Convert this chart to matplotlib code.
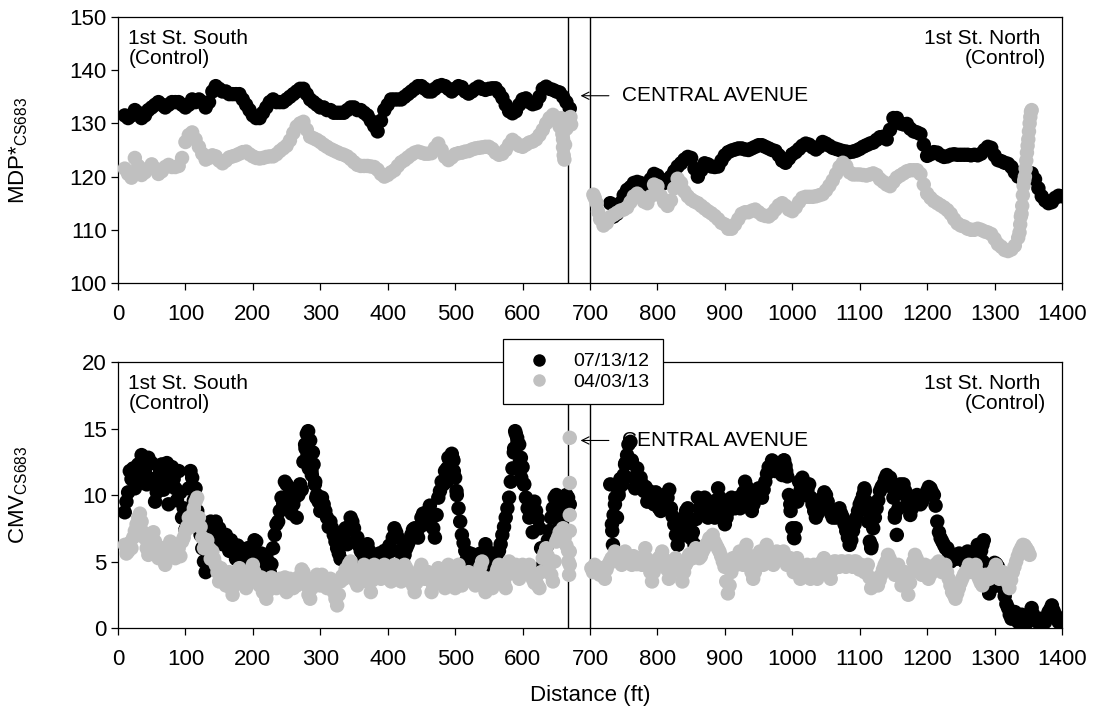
import numpy as np
import matplotlib
matplotlib.use("Agg")
import matplotlib.pyplot as plt
from matplotlib.lines import Line2D

plt.rcParams['font.family'] = ['Liberation Sans', 'DejaVu Sans']
plt.rcParams['mathtext.fontset'] = 'custom'
plt.rcParams['mathtext.rm'] = 'Liberation Sans'
plt.rcParams['mathtext.default'] = 'regular'

# ---------------------------------------------------------------- data
dates = ['07/13/12', '04/03/13']
colors = ['black', '#c0c0c0']
x_ticks = list(range(0, 1401, 100))
mdp_ticks = [100, 110, 120, 130, 140, 150]
cmv_ticks = [0, 5, 10, 15, 20]
intersection = [668, 700]          # edges of Central Avenue (ft)
step = 5                           # survey station spacing (ft)

# MDP* -- 07/13/12, south segment (stations from 10 ft) and north segment (from 730 ft)
mdp_a_south_start = 10
mdp_a_south = [131.5, 131.0, 131.5, 132.5, 132.0, 131.0, 131.5, 132.5, 133.0, 133.5,
               134.0, 133.5, 133.0, 133.5, 134.0, 134.0, 134.0, 133.5, 133.0, 133.5,
               134.5, 134.0, 134.5, 134.0, 133.0, 134.0, 136.0, 137.0, 136.5, 136.0,
               136.0, 135.5, 135.5, 135.5, 135.5, 134.5, 133.5, 132.5, 131.5, 131.0,
               131.0, 132.0, 133.0, 134.0, 134.5, 134.0, 134.0, 134.0, 134.5, 135.0,
               135.5, 136.0, 136.5, 136.5, 135.5, 134.5, 134.0, 133.5, 133.0, 133.0,
               132.5, 132.5, 132.0, 132.0, 132.0, 132.0, 132.5, 133.0, 133.0, 132.5,
               132.5, 132.0, 131.5, 130.5, 129.5, 128.5, 130.5, 132.5, 133.5, 134.5,
               134.5, 134.5, 134.5, 135.0, 135.5, 136.0, 136.5, 137.0, 137.0, 136.5,
               136.0, 136.0, 136.5, 137.0, 137.2, 137.0, 136.5, 136.0, 136.5, 137.0,
               136.8, 136.0, 135.6, 136.0, 136.5, 136.9, 136.5, 136.3, 136.5, 136.6,
               136.6, 135.8, 134.8, 133.5, 132.3, 131.9, 132.3, 133.5, 134.5, 134.7,
               134.0, 133.6, 133.8, 135.0, 136.5, 136.9, 136.5, 136.3, 136.0, 135.8,
               135.0, 134.0, 132.8]
mdp_a_north_start = 730
mdp_a_north = [115.0, 112.5, 113.0, 115.0, 116.5, 117.5, 118.0, 118.8, 119.0, 118.8,
               118.5, 118.4, 119.5, 120.5, 120.2, 119.5, 118.8, 119.2, 120.0, 121.0,
               121.9, 122.5, 123.2, 123.7, 123.5, 121.5, 120.0, 121.2, 122.5, 122.3,
               121.9, 121.8, 121.9, 123.0, 124.0, 124.6, 124.9, 125.1, 125.3, 125.3,
               125.1, 125.0, 125.3, 125.6, 125.9, 125.9, 125.6, 125.3, 125.0, 124.8,
               124.0, 123.0, 122.6, 123.4, 124.2, 124.6, 125.2, 125.8, 126.2, 126.0,
               125.5, 125.1, 125.6, 126.5, 126.2, 125.8, 125.4, 125.2, 125.0, 124.8,
               124.7, 124.6, 124.7, 124.9, 125.2, 125.6, 125.9, 126.2, 126.4, 126.9,
               127.4, 127.5, 127.0, 128.8, 131.0, 131.0, 130.0, 129.8, 129.9, 129.0,
               128.5, 128.3, 128.0, 126.0, 123.9, 124.2, 124.6, 124.5, 124.0, 123.7,
               123.8, 124.1, 124.2, 124.1, 124.1, 124.1, 124.1, 124.0, 124.1, 124.0,
               124.3, 125.0, 125.6, 125.4, 124.0, 123.1, 122.9, 122.6, 122.4, 121.8,
               120.8, 120.0, 119.8, 120.2, 120.6, 120.6, 119.5, 117.8, 116.3, 115.5,
               115.0, 115.2, 116.0, 116.4, 116.3]

# MDP* -- 04/03/13
mdp_b_south_start = 10
mdp_b_south = [121.5, 120.5, 119.8, 123.5, 122.0, 120.3, 120.8, 121.5, 122.3, 121.5,
               120.5, 121.0, 121.8, 122.2, 121.8, 121.8, 122.0, 123.5, 126.5, 127.8,
               128.3, 127.0, 125.6, 124.3, 123.2, 123.5, 124.0, 123.8, 123.0, 122.5,
               123.0, 123.6, 123.8, 124.0, 124.3, 124.6, 124.7, 124.2, 123.8, 123.5,
               123.4, 123.5, 123.7, 123.8, 123.8, 124.2, 124.8, 125.3, 125.8, 126.8,
               128.2, 129.4, 130.0, 130.3, 128.8, 127.5, 127.2, 126.9, 126.5, 126.0,
               125.6, 125.2, 124.9, 124.6, 124.3, 124.1, 123.8, 123.3, 122.7, 122.2,
               122.0, 122.0, 122.0, 121.9, 121.8, 121.3, 120.5, 120.0, 120.3, 120.8,
               121.2, 122.0, 122.7, 123.1, 123.6, 124.1, 124.5, 124.7, 124.5, 124.3,
               124.3, 124.4, 125.4, 126.2, 125.0, 123.7, 123.1, 123.6, 124.2, 124.4,
               124.5, 124.7, 124.8, 125.1, 125.3, 125.4, 125.5, 125.6, 125.6, 125.2,
               124.5, 124.1, 124.3, 125.0, 126.0, 126.9, 126.4, 125.8, 125.6, 126.0,
               126.4, 126.6, 127.0, 127.8, 128.8, 130.0, 131.0, 131.6, 130.5, 129.4,
               127.0, 129.0, 130.6]
mdp_b_extra_x = [657, 659, 660, 661, 662, 663, 671, 672]
mdp_b_extra_y = [131.0, 128.0, 125.5, 124.0, 123.2, 126.0, 131.2, 129.8]
mdp_b_north_start = 705
mdp_b_north = [116.6, 115.0, 112.0, 110.8, 111.3, 112.4, 112.8, 113.2, 113.6, 113.8,
               114.2, 115.2, 116.3, 116.8, 116.2, 115.3, 115.0, 116.3, 118.5, 118.2,
               116.4, 115.2, 114.5, 115.5, 117.8, 119.6, 118.8, 117.2, 116.3, 115.7,
               115.3, 115.0, 114.5, 114.0, 113.5, 113.1, 112.6, 112.0, 111.3, 111.0,
               110.2, 110.2, 111.0, 112.0, 113.0, 113.3, 113.3, 113.6, 113.8, 113.3,
               112.8, 112.6, 112.5, 113.0, 113.8, 114.6, 115.0, 114.5, 113.8, 113.5,
               114.2, 115.2, 116.0, 116.2, 116.2, 116.2, 116.3, 116.5, 116.7, 117.4,
               118.3, 119.3, 120.5, 121.8, 122.6, 122.0, 120.8, 120.4, 120.4, 120.4,
               120.3, 120.2, 120.4, 120.6, 120.3, 119.5, 119.0, 118.5, 118.2, 119.0,
               119.8, 120.2, 120.6, 121.0, 121.2, 121.2, 121.2, 120.5, 118.5, 116.8,
               116.0, 115.4, 115.0, 114.6, 114.2, 113.7, 113.0, 112.0, 111.2, 110.8,
               110.6, 110.2, 110.0, 110.0, 110.2, 110.0, 109.7, 109.5, 109.2, 108.3,
               107.3, 106.8, 106.2, 106.0, 106.3, 107.0, 108.5, 113.0, 120.0, 127.0,
               132.5]
mdp_b_north_extra_x = [707, 712, 1337, 1338, 1339, 1341, 1342, 1343, 1344, 1346,
                       1347, 1348, 1349, 1351, 1352, 1353, 1354]
mdp_b_north_extra_y = [116.0, 113.4, 109.5, 111.0, 112.5, 114.5, 116.5, 118.3, 119.3,
                       121.5, 123.0, 124.5, 125.8, 128.5, 130.0, 131.2, 132.2]

# CMV -- 07/13/12 (main stations plus half-step stations)
cmv_a_south_start = 10
cmv_a_south = [8.7, 10.2, 11.2, 10.5, 12.3, 13.0, 11.8, 12.8, 12.4, 9.5,
               10.8, 12.3, 11.5, 9.3, 12.1, 10.5, 11.8, 8.3, 7.4, 10.5,
               11.3, 10.5, 7.5, 6.0, 4.2, 7.3, 7.0, 8.0, 7.5, 6.3,
               7.0, 5.8, 6.0, 5.2, 5.8, 4.7, 5.5, 5.0, 5.8, 6.5,
               5.0, 4.7, 5.5, 4.2, 6.0, 7.8, 8.8, 9.3, 10.8, 10.5,
               9.3, 8.3, 10.8, 12.5, 14.6, 14.1, 12.3, 10.0, 8.8, 9.3,
               8.3, 8.0, 7.0, 6.0, 5.2, 7.0, 6.3, 8.3, 7.5, 6.8,
               5.8, 5.0, 6.3, 5.2, 4.7, 5.5, 5.0, 5.8, 5.0, 5.8,
               7.5, 6.8, 5.0, 5.5, 6.3, 7.0, 7.5, 6.8, 8.3, 7.8,
               8.8, 8.3, 6.8, 9.8, 11.0, 11.8, 12.8, 13.1, 11.3, 9.0,
               7.0, 5.8, 4.7, 5.2, 4.7, 5.0, 4.5, 6.3, 5.2, 4.2,
               5.0, 5.8, 7.0, 8.3, 9.8, 12.0, 14.6, 13.8, 12.1, 9.8,
               8.3, 7.2, 8.8, 7.5, 4.7, 6.0, 7.3, 9.0, 10.0, 7.8,
               8.8, 10.0, 9.3]
cmv_a_south_mid_start = 12.5
cmv_a_south_mid = [9.5, 11.8, 12.0, 11.5, 11.0, 12.3, 10.8, 11.0, 11.2, 10.2,
                   11.8, 10.4, 12.4, 10.8, 11.2, 9.6, 10.2, 9.0, 8.8, 11.8,
                   9.6, 8.8, 7.0, 5.0, 6.0, 8.0, 7.6, 6.8, 7.0, 6.6,
                   6.4, 6.6, 5.7, 6.2, 5.3, 5.8, 6.0, 5.3, 6.6, 5.6,
                   5.6, 4.6, 5.0, 4.8, 7.0, 8.0, 9.8, 11.0, 9.6, 8.6,
                   9.8, 10.0, 10.4, 13.8, 13.5, 11.5, 11.0, 9.5, 9.8, 8.8,
                   7.6, 7.5, 6.5, 5.6, 6.3, 7.5, 7.6, 8.0, 6.5, 6.2,
                   5.6, 5.5, 5.8, 5.4, 5.0, 5.6, 5.2, 5.5, 6.2, 6.8,
                   7.2, 5.8, 5.2, 6.0, 6.6, 7.4, 7.0, 7.6, 8.6, 8.2,
                   9.2, 7.5, 8.5, 10.3, 10.8, 11.0, 12.2, 12.6, 10.0, 8.0,
                   6.4, 5.2, 5.6, 5.5, 5.3, 5.6, 5.4, 5.8, 4.8, 4.6,
                   5.6, 6.3, 7.6, 9.0, 11.0, 13.5, 14.0, 12.8, 10.8, 9.0,
                   8.8, 9.5, 8.2, 6.0, 5.5, 6.6, 8.3, 9.8, 9.0, 8.0,
                   9.4, 9.8]
cmv_a_south_extra_x = [278, 281, 282, 283, 287, 289, 292, 294,
                       488, 492, 496, 498, 502, 587, 589, 592, 596, 598, 602]
cmv_a_south_extra_y = [13.5, 13.0, 14.8, 12.0, 11.8, 13.2, 10.8, 9.8,
                       12.0, 12.6, 12.8, 11.8, 10.3, 13.2, 14.8, 14.3, 12.5, 11.3, 10.8]
cmv_a_north_start = 730
cmv_a_north = [10.8, 8.5, 8.3, 11.2, 11.5, 13.0, 14.0, 11.3, 12.0, 11.3,
               10.3, 9.5, 10.0, 9.3, 9.5, 8.8, 10.0, 9.8, 9.0, 7.8,
               6.25, 7.3, 8.3, 9.0, 6.75, 6.25, 9.8, 8.8, 9.8, 8.3,
               9.0, 8.3, 10.5, 9.3, 7.8, 8.8, 9.8, 9.0, 9.8, 9.3,
               11.0, 10.0, 8.8, 9.8, 10.5, 9.8, 11.0, 12.1, 12.6, 11.8,
               12.3, 11.5, 12.2, 10.0, 7.5, 7.5, 11.0, 11.3, 10.0, 10.8,
               9.3, 8.3, 9.0, 9.8, 10.0, 9.0, 8.3, 8.3, 9.0, 8.3,
               7.3, 6.25, 7.3, 8.3, 9.3, 10.0, 9.5, 6.5, 7.5, 9.0,
               10.3, 10.8, 11.5, 11.3, 9.8, 7.0, 10.8, 10.8, 9.8, 8.5,
               9.5, 10.0, 9.3, 9.8, 10.3, 10.5, 10.0, 8.0, 6.75, 6.25,
               6.0, 5.0, 5.5, 5.25, 5.5, 5.0, 5.75, 5.25, 4.75, 6.25,
               5.8, 4.2, 3.2, 3.0, 4.9, 4.6, 3.5, 2.4, 1.5, 0.7,
               1.2, 0.45, 1.0, 0.2, 0.7, 1.5, 0.7, 0.45, 0.7, 0.45,
               1.2, 1.7, 1.0, 0.45, 0.7]
cmv_a_north_mid_start = 732.5
cmv_a_north_mid = [7.8, 9.8, 10.0, 10.8, 12.4, 12.6, 12.4, 10.6, 11.0, 10.8,
                   10.6, 10.3, 9.6, 10.2, 9.0, 9.6, 9.2, 10.4, 8.4, 7.0,
                   6.8, 8.0, 8.8, 8.0, 7.2, 8.2, 9.0, 9.4, 8.8, 9.5,
                   8.6, 9.6, 9.8, 8.6, 8.3, 9.4, 9.2, 9.6, 9.0, 10.2,
                   10.6, 9.4, 9.3, 10.2, 10.0, 10.4, 11.6, 12.0, 12.2, 12.4,
                   11.8, 12.6, 11.4, 8.8, 6.8, 9.5, 10.4, 10.6, 10.4, 9.8,
                   8.8, 8.6, 9.4, 10.2, 9.5, 8.6, 8.8, 8.6, 8.6, 7.8,
                   6.8, 6.6, 7.8, 8.8, 9.6, 10.3, 8.0, 6.2, 8.3, 9.6,
                   10.6, 11.2, 11.0, 10.6, 8.6, 9.0, 10.2, 10.3, 9.2, 9.0,
                   9.8, 9.6, 9.5, 10.0, 10.6, 10.2, 9.2, 7.2, 6.5, 6.0,
                   5.6, 5.3, 5.2, 5.6, 5.2, 5.4, 5.4, 5.0, 5.6, 6.0,
                   5.0, 3.8, 2.8, 4.0, 4.8, 4.0, 3.0, 1.8, 1.0, 1.0,
                   0.8, 0.8, 0.6, 0.4, 1.1, 1.0, 0.5, 0.6, 0.6, 0.8,
                   1.4, 1.3, 0.7, 0.5]
cmv_a_north_extra_x = [733, 734, 737, 742, 748, 752, 757, 758, 762, 767,
                       988, 991, 997, 1003, 1107, 1112, 1117, 1152,
                       1282, 1284, 1287, 1292]
cmv_a_north_extra_y = [7.3, 6.25, 9.3, 10.3, 10.8, 12.3, 13.8, 12.6, 12.6, 10.5,
                       12.6, 11.8, 9.3, 6.75, 10.5, 8.8, 6.0, 8.3,
                       6.25, 6.6, 3.7, 2.6]

# CMV -- 04/03/13
cmv_b_south_start = 10
cmv_b_south = [6.25, 5.75, 6.0, 7.3, 8.3, 8.0, 6.75, 5.5, 6.75, 6.5,
               5.25, 6.0, 4.75, 5.75, 6.25, 5.25, 6.0, 6.5, 7.3, 8.3,
               8.5, 9.5, 8.3, 6.8, 6.25, 6.0, 5.75, 4.75, 3.5, 4.2,
               3.2, 4.2, 2.5, 3.7, 4.5, 3.5, 3.0, 4.0, 4.75, 3.7,
               3.2, 2.7, 2.2, 3.2, 3.5, 3.0, 3.7, 3.2, 2.7, 3.7,
               3.0, 3.2, 3.7, 4.2, 3.2, 2.2, 3.7, 4.0, 3.2, 3.7,
               3.0, 3.7, 2.7, 1.7, 3.5, 3.7, 4.2, 5.0, 3.7, 3.2,
               4.0, 4.75, 3.7, 2.7, 4.75, 4.2, 3.7, 4.75, 4.2, 3.5,
               4.75, 4.0, 3.5, 4.75, 4.2, 3.7, 2.7, 4.0, 4.75, 3.7,
               4.2, 2.7, 3.7, 4.5, 3.7, 3.0, 4.75, 3.7, 3.0, 4.75,
               3.2, 3.7, 4.2, 3.7, 3.2, 4.2, 5.0, 2.7, 3.7, 3.0,
               4.0, 4.75, 3.7, 3.0, 5.0, 4.2, 4.75, 3.7, 4.75, 4.2,
               4.75, 3.7, 3.5, 3.0, 5.25, 6.0, 4.75, 3.5, 6.5, 7.2,
               7.5, 6.2]
cmv_b_south_mid_start = 12.5
cmv_b_south_mid = [5.6, 6.4, 6.8, 7.8, 8.6, 7.2, 6.0, 6.2, 7.2, 5.8,
                   5.5, 5.4, 5.5, 6.5, 5.8, 5.6, 5.4, 6.8, 7.6, 7.6,
                   9.0, 9.8, 7.6, 6.0, 6.6, 5.2, 5.2, 4.2, 4.5, 3.8,
                   3.6, 3.0, 3.2, 4.0, 4.0, 3.8, 3.5, 4.4, 4.2, 3.4,
                   3.8, 2.6, 2.8, 3.8, 3.2, 3.5, 3.5, 3.8, 3.2, 3.4,
                   3.6, 3.8, 4.4, 3.8, 2.5, 3.0, 3.4, 3.6, 4.0, 3.2,
                   3.4, 3.2, 2.2, 2.5, 3.9, 4.4, 4.8, 4.4, 3.5, 3.6,
                   4.4, 4.2, 3.4, 3.6, 4.4, 4.0, 4.2, 4.5, 3.8, 4.2,
                   4.4, 3.8, 4.2, 4.5, 3.8, 3.2, 3.4, 4.4, 4.2, 4.0,
                   3.6, 3.2, 4.2, 4.0, 3.4, 3.8, 4.3, 3.4, 3.9, 4.0,
                   3.5, 4.0, 4.0, 3.4, 3.8, 4.6, 3.8, 3.2, 3.4, 3.6,
                   4.4, 4.2, 3.4, 4.0, 4.6, 4.4, 4.2, 4.2, 4.4, 4.5,
                   4.2, 3.4, 3.2, 4.2, 5.6, 5.4, 4.0, 5.0, 6.8, 7.0,
                   6.8, 5.8]
cmv_b_south_extra_x = [668, 669, 670, 670, 670, 670, 670, 670]
cmv_b_south_extra_y = [5.0, 4.0, 14.3, 10.9, 8.5, 7.3, 5.75, 4.75]
cmv_b_north_start = 702
cmv_b_north = [4.5, 4.75, 4.2, 4.5, 3.7, 4.75, 5.25, 5.75, 5.0, 4.75,
               5.75, 5.25, 4.75, 5.0, 5.25, 4.75, 6.0, 4.75, 3.5, 4.75,
               5.25, 5.75, 4.75, 3.7, 4.75, 5.25, 4.75, 3.5, 4.75, 5.5,
               5.25, 6.0, 5.25, 5.75, 6.25, 6.75, 7.0, 6.25, 5.75, 5.0,
               3.5, 3.2, 5.25, 4.75, 5.75, 4.75, 6.25, 4.75, 3.7, 4.75,
               5.75, 4.75, 6.25, 5.25, 4.75, 5.75, 5.25, 5.75, 4.75, 5.25,
               4.2, 5.25, 3.7, 4.2, 4.75, 3.7, 4.75, 3.7, 4.75, 5.25,
               4.75, 3.7, 5.0, 4.75, 5.0, 4.75, 5.0, 4.75, 5.0, 4.75,
               4.75, 4.2, 4.75, 3.0, 3.7, 3.2, 4.0, 4.75, 5.5, 4.75,
               4.0, 4.75, 3.2, 4.2, 2.5, 4.2, 5.5, 4.75, 4.0, 4.75,
               3.7, 4.2, 4.75, 5.0, 4.2, 4.75, 3.7, 2.7, 2.2, 3.0,
               3.7, 4.2, 4.75, 4.2, 4.75, 3.7, 3.2, 4.0, 3.7, 4.2,
               4.75, 3.7, 4.2, 3.7, 3.0, 4.2, 5.0, 5.75, 6.25, 6.0,
               5.5]
cmv_b_north_mid_start = 704.5
cmv_b_north_mid = [4.2, 4.6, 4.0, 4.4, 4.4, 5.0, 5.3, 5.6, 5.4, 5.2,
                   5.4, 5.0, 5.4, 4.8, 5.0, 5.4, 5.2, 4.2, 4.2, 5.0,
                   5.4, 5.2, 4.4, 4.2, 5.0, 5.0, 4.2, 4.2, 5.0, 5.6,
                   5.6, 5.6, 5.4, 6.0, 6.4, 6.6, 6.5, 6.0, 5.4, 4.6,
                   2.6, 4.2, 5.0, 5.2, 5.2, 5.5, 5.5, 4.2, 4.2, 5.2,
                   5.2, 5.6, 5.8, 5.0, 5.2, 5.5, 5.4, 5.2, 4.9, 4.8,
                   4.6, 4.4, 4.0, 4.4, 4.2, 4.2, 4.2, 4.2, 5.0, 5.0,
                   4.2, 4.4, 5.0, 4.6, 5.0, 4.6, 5.0, 4.6, 5.0, 4.4,
                   4.6, 4.4, 3.8, 3.2, 3.6, 3.6, 4.4, 5.0, 5.2, 4.4,
                   4.4, 4.0, 3.6, 3.6, 3.4, 5.0, 5.2, 4.4, 4.4, 4.2,
                   4.0, 4.4, 4.8, 4.6, 4.4, 4.2, 3.2, 2.5, 2.6, 3.4,
                   4.0, 4.4, 4.5, 4.4, 4.2, 3.4, 3.6, 3.8, 4.0, 4.4,
                   4.2, 4.0, 4.0, 3.4, 3.6, 4.6, 5.4, 6.0, 6.2, 5.8]


def stations(start, values):
    return start + step * np.arange(len(values))


def pts(start, values):
    return stations(start, values), values


# ---------------------------------------------------------------- figure
fig = plt.figure(figsize=(10.93, 7.19), dpi=100)
ax_mdp = fig.add_axes([0.10796, 0.6064, 0.86368, 0.36996])
ax_cmv = fig.add_axes([0.10796, 0.12656, 0.86368, 0.36996])

marker_area = 108

mdp_series = [
    [pts(mdp_a_south_start, mdp_a_south),
     pts(mdp_a_north_start, mdp_a_north)],
    [pts(mdp_b_south_start, mdp_b_south),
     (np.array(mdp_b_extra_x), mdp_b_extra_y),
     pts(mdp_b_north_start, mdp_b_north),
     (np.array(mdp_b_north_extra_x), mdp_b_north_extra_y)],
]
cmv_series = [
    [pts(cmv_a_south_start, cmv_a_south),
     pts(cmv_a_south_mid_start, cmv_a_south_mid),
     (np.array(cmv_a_south_extra_x), cmv_a_south_extra_y),
     pts(cmv_a_north_start, cmv_a_north),
     pts(cmv_a_north_mid_start, cmv_a_north_mid),
     (np.array(cmv_a_north_extra_x), cmv_a_north_extra_y)],
    [pts(cmv_b_south_start, cmv_b_south),
     pts(cmv_b_south_mid_start, cmv_b_south_mid),
     (np.array(cmv_b_south_extra_x), cmv_b_south_extra_y),
     pts(cmv_b_north_start, cmv_b_north),
     pts(cmv_b_north_mid_start, cmv_b_north_mid)],
]

for ax, series in [(ax_mdp, mdp_series), (ax_cmv, cmv_series)]:
    for color, parts in zip(colors, series):
        xs = np.concatenate([np.asarray(p[0], dtype=float) for p in parts])
        ys = np.concatenate([np.asarray(p[1], dtype=float) for p in parts])
        ax.scatter(xs, ys, s=marker_area, color=color, edgecolors='none', zorder=3)
    for xv in intersection:
        ax.axvline(xv, color='black', lw=1.0, zorder=1)
    ax.set_xlim(0, 1400)
    ax.set_xticks(x_ticks)
    ax.tick_params(axis='x', direction='out', length=5, width=0.9, pad=10,
                   labelsize=16, top=False)
    ax.tick_params(axis='y', direction='out', length=5, width=0.9, pad=3,
                   labelsize=16, right=False)
    for sp in ax.spines.values():
        sp.set_linewidth(0.9)

ax_mdp.set_ylim(100, 150)
ax_mdp.set_yticks(mdp_ticks)
ax_cmv.set_ylim(0, 20)
ax_cmv.set_yticks(cmv_ticks)

ax_mdp.set_ylabel('MDP*$_{CS683}$', fontsize=16)
ax_cmv.set_ylabel('CMV$_{CS683}$', fontsize=16)
ax_mdp.yaxis.set_label_coords(-0.093, 0.5)
ax_cmv.yaxis.set_label_coords(-0.093, 0.5)

fig.text(0.5398, 1 - 695 / 719, 'Distance (ft)', ha='center', va='center', fontsize=16)

# Segment labels and Central Avenue callouts
for ax, ypos in [(ax_mdp, 135.2), (ax_cmv, 14.1)]:
    ax.text(0.011, 0.955, '1st St. South\n(Control)', transform=ax.transAxes,
            ha='left', va='top', fontsize=15, linespacing=1.1, zorder=1)
    ax.text(0.983, 0.955, '1st St. North \n(Control)', transform=ax.transAxes,
            ha='right', va='top', fontsize=15, linespacing=1.1,
            multialignment='right', zorder=1)
    ax.annotate('', xy=(686, ypos), xytext=(728, ypos),
                arrowprops=dict(arrowstyle='->', lw=0.8, color='black',
                                shrinkA=0, shrinkB=0, mutation_scale=13),
                zorder=1)
    ax.text(748, ypos, 'CENTRAL AVENUE', ha='left', va='center', fontsize=15, zorder=1)

handles = [Line2D([], [], linestyle='none', marker='o', markersize=9,
                  markerfacecolor=c, markeredgecolor='none') for c in colors]
leg = ax_cmv.legend(handles, dates, loc='upper left', bbox_to_anchor=(0.408, 1.086),
                    bbox_transform=ax_cmv.transAxes, borderaxespad=0, fontsize=14,
                    frameon=True, fancybox=False, framealpha=1, edgecolor='black',
                    borderpad=0.7, labelspacing=0.15, handlelength=2.3,
                    handletextpad=0.6)
leg.get_frame().set_linewidth(0.9)
leg.set_zorder(10)

fig.savefig('out.png', dpi=100)
